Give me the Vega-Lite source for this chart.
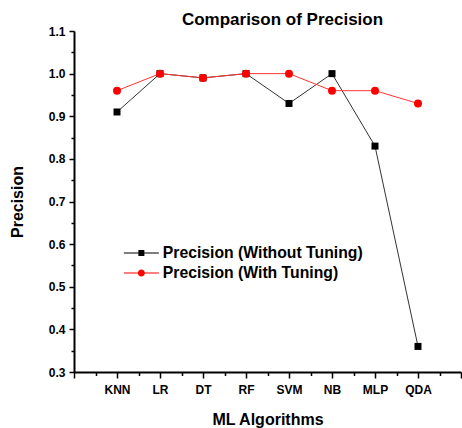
{
  "$schema": "https://vega.github.io/schema/vega-lite/v6.json",
  "autosize": "none",
  "width": 387,
  "height": 341,
  "padding": {"left": 74, "top": 31, "right": 1, "bottom": 56},
  "background": "white",
  "title": {
    "text": "Comparison of Precision",
    "font": "Liberation Sans",
    "fontSize": 17,
    "fontWeight": "bold",
    "color": "black",
    "anchor": "middle",
    "dx": 15,
    "offset": -4
  },
  "config": {
    "view": {"stroke": null},
    "font": "Liberation Sans",
    "axis": {
      "domainColor": "black",
      "domainWidth": 2,
      "tickColor": "black",
      "tickWidth": 1.5,
      "labelFont": "Liberation Sans",
      "labelFontWeight": "bold",
      "labelFontSize": 12,
      "labelColor": "black",
      "titleFont": "Liberation Sans",
      "titleFontWeight": "bold",
      "titleFontSize": 16,
      "titleColor": "black",
      "grid": false,
      "labelOverlap": false
    }
  },
  "data": {
    "values": [
      {"algo": "KNN", "series": "Precision (Without Tuning)", "value": 0.91},
      {"algo": "LR", "series": "Precision (Without Tuning)", "value": 1.0},
      {"algo": "DT", "series": "Precision (Without Tuning)", "value": 0.99},
      {"algo": "RF", "series": "Precision (Without Tuning)", "value": 1.0},
      {"algo": "SVM", "series": "Precision (Without Tuning)", "value": 0.93},
      {"algo": "NB", "series": "Precision (Without Tuning)", "value": 1.0},
      {"algo": "MLP", "series": "Precision (Without Tuning)", "value": 0.83},
      {"algo": "QDA", "series": "Precision (Without Tuning)", "value": 0.36},
      {"algo": "KNN", "series": "Precision (With Tuning)", "value": 0.96},
      {"algo": "LR", "series": "Precision (With Tuning)", "value": 1.0},
      {"algo": "DT", "series": "Precision (With Tuning)", "value": 0.99},
      {"algo": "RF", "series": "Precision (With Tuning)", "value": 1.0},
      {"algo": "SVM", "series": "Precision (With Tuning)", "value": 1.0},
      {"algo": "NB", "series": "Precision (With Tuning)", "value": 0.96},
      {"algo": "MLP", "series": "Precision (With Tuning)", "value": 0.96},
      {"algo": "QDA", "series": "Precision (With Tuning)", "value": 0.93}
    ]
  },
  "encoding": {
    "x": {
      "field": "algo",
      "type": "nominal",
      "sort": ["KNN", "LR", "DT", "RF", "SVM", "NB", "MLP", "QDA"],
      "scale": {
        "type": "point",
        "padding": 0,
        "domain": ["_e0", "_m1", "KNN", "_m2", "LR", "_m3", "DT", "_m4", "RF", "_m5", "SVM", "_m6", "NB", "_m7", "MLP", "_m8", "QDA", "_m9", "_e1"]
      },
      "axis": {
        "title": "ML Algorithms",
        "labelAngle": 0,
        "labelPadding": 6,
        "titlePadding": 16,
        "labelExpr": "indexof(datum.value, '_') === 0 ? '' : datum.value",
        "tickSize": {"condition": {"test": "indexof(datum.value, '_m') === 0", "value": 3.5}, "value": 6}
      }
    },
    "y": {
      "field": "value",
      "type": "quantitative",
      "scale": {"domain": [0.3, 1.1], "nice": false, "zero": false},
      "axis": {
        "title": "Precision",
        "values": [0.3, 0.35, 0.4, 0.45, 0.5, 0.55, 0.6, 0.65, 0.7, 0.75, 0.8, 0.85, 0.9, 0.95, 1.0, 1.05, 1.1],
        "labelExpr": "abs(datum.value * 10 - round(datum.value * 10)) < 0.001 ? format(datum.value, '.1f') : ''",
        "tickSize": {"condition": {"test": "abs(datum.value * 10 - round(datum.value * 10)) < 0.001", "value": 5}, "value": 3},
        "labelPadding": 4,
        "titlePadding": 23
      }
    }
  },
  "layer": [
    {
      "transform": [{"filter": "datum.series === 'Precision (Without Tuning)'"}],
      "mark": {"type": "line", "strokeWidth": 1, "color": "#333333"},
      "encoding": {}
    },
    {
      "transform": [{"filter": "datum.series === 'Precision (Without Tuning)'"}],
      "mark": {"type": "point", "shape": "square", "filled": true, "size": 49, "opacity": 1, "color": "black"},
      "encoding": {}
    },
    {
      "transform": [{"filter": "datum.series === 'Precision (With Tuning)'"}],
      "mark": {"type": "line", "strokeWidth": 1, "color": "#ff3333"},
      "encoding": {}
    },
    {
      "transform": [{"filter": "datum.series === 'Precision (With Tuning)'"}],
      "mark": {"type": "point", "shape": "circle", "filled": true, "size": 64, "opacity": 1, "color": "red"},
      "encoding": {}
    },
    {
      "transform": [{"filter": "false"}],
      "mark": {"type": "point", "filled": true, "opacity": 1},
      "encoding": {
        "color": {
          "field": "series",
          "type": "nominal",
          "scale": {
            "domain": ["Precision (Without Tuning)", "Precision (With Tuning)"],
            "range": ["black", "red"]
          },
          "legend": {
            "title": null,
            "orient": "none",
            "legendX": 59.5,
            "legendY": 214,
            "padding": 0,
            "labelFont": "Liberation Sans",
            "labelFontWeight": "bold",
            "labelFontSize": 15.75,
            "labelColor": "black",
            "labelLimit": 0,
            "labelOffset": 13.5,
            "symbolSize": 100,
            "symbolStrokeWidth": 0,
            "symbolOpacity": 1,
            "rowPadding": 3
          }
        },
        "shape": {
          "field": "series",
          "type": "nominal",
          "scale": {
            "domain": ["Precision (Without Tuning)", "Precision (With Tuning)"],
            "range": [
              "M-3.5,-0.1H3.5V0.1H-3.5Z M-0.6,-0.6H0.6V0.6H-0.6Z",
              "M-3.5,-0.1H3.5V0.1H-3.5Z M-0.7,0A0.7,0.7,0,1,1,0.7,0A0.7,0.7,0,1,1,-0.7,0Z"
            ]
          },
          "legend": {
            "title": null,
            "orient": "none",
            "legendX": 59.5,
            "legendY": 214,
            "padding": 0,
            "labelFont": "Liberation Sans",
            "labelFontWeight": "bold",
            "labelFontSize": 15.75,
            "labelColor": "black",
            "labelLimit": 0,
            "labelOffset": 13.5,
            "symbolSize": 100,
            "symbolStrokeWidth": 0,
            "symbolOpacity": 1,
            "rowPadding": 3
          }
        }
      }
    }
  ]
}
